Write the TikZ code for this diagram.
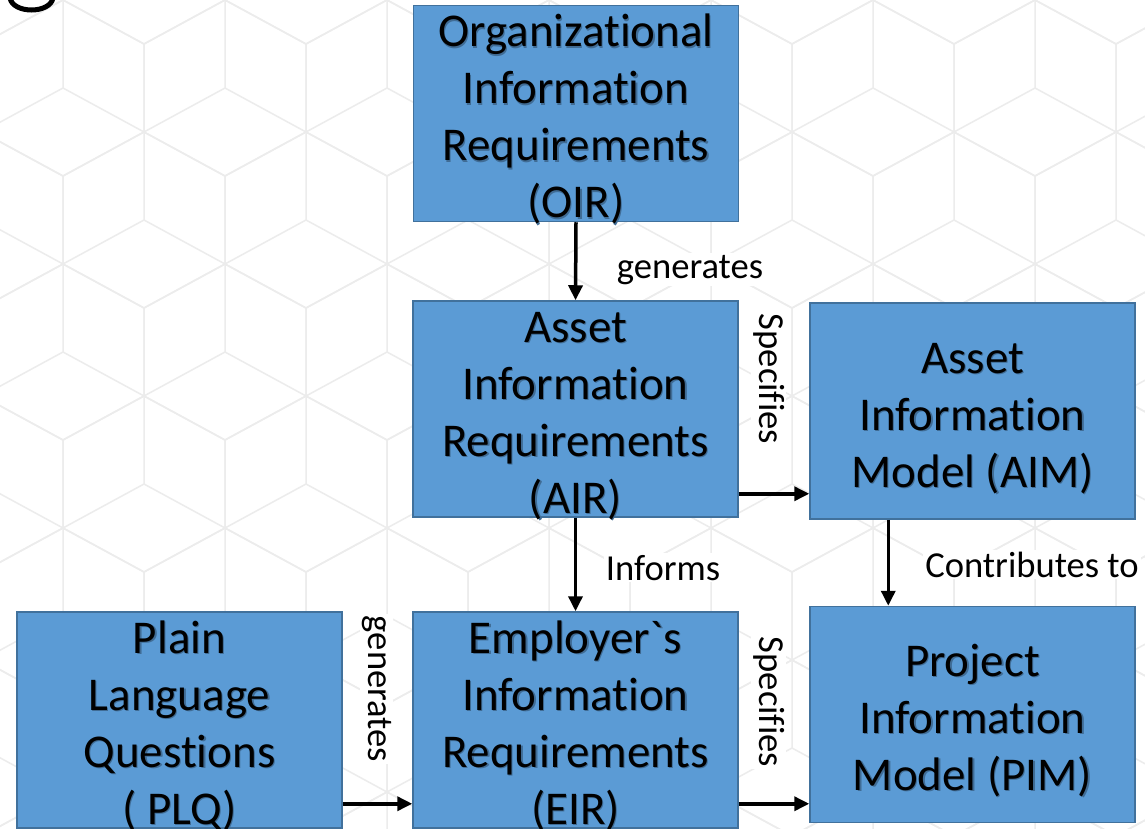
\documentclass[tikz,border=0pt]{standalone}
\usepackage{fontspec}
\setmainfont{Carlito}[Ligatures={NoCommon,TeXOff}]
\usetikzlibrary{arrows.meta}
\definecolor{boxfill}{HTML}{5B9BD5}
\definecolor{boxline}{HTML}{41719C}
\definecolor{patline}{HTML}{ECECEC}
\colorlet{shadowc}{boxfill!70!black}
\newcommand\shd[1]{\rlap{\kern1.2pt\raisebox{-1.2pt}{\textcolor{shadowc}{#1}}}#1}
\newcommand\bline[1]{\rule[-9pt]{0pt}{56pt}\shd{#1}}
\newcommand\boxtext[1]{\parbox[c][216pt][c]{325pt}{\centering\fontsize{47}{57}\selectfont #1}}
\tikzset{
  box/.style={draw=boxline, line width=1.5pt, fill=boxfill, inner sep=0pt, text=black},
  lbl/.style={fill=white, inner sep=2pt, text=black, font=\fontsize{36.6}{44}\selectfont},
  arr/.style={line width=3.5pt, black, -{Triangle[length=15pt,width=14pt]}},
  pat/.style={draw=patline, line width=1.5pt}
}
\begin{document}
\begin{tikzpicture}[x=1pt,y=-1pt]
\useasboundingbox (0,0) rectangle (1145,829);
\fill[white] (0,0) rectangle (1145,829);
% background cube pattern
\begin{scope}
\clip (0,0) rectangle (1145,829);
\foreach \j in {-1,...,6}{
  \foreach \i in {-1,...,7}{
    \pgfmathsetmacro\cx{63+162*\i+81*mod(\j+2,2)}
    \pgfmathsetmacro\cy{88+132*\j}
    \draw[pat] (\cx,\cy-88) -- (\cx+81,\cy-44) -- (\cx+81,\cy+44) -- (\cx,\cy+88)
               -- (\cx-81,\cy+44) -- (\cx-81,\cy-44) -- cycle;
    \draw[pat] (\cx,\cy-88) -- (\cx,\cy) -- (\cx-81,\cy+44);
    \draw[pat] (\cx,\cy) -- (\cx+81,\cy+44);
  }
}
\end{scope}
% fragment of the cut-off heading letter
\draw[line width=5pt, line cap=round] (10,-2) .. controls (13,14) and (50,14) .. (53,-2);
% boxes
\node[box] (OIR) at (576,113.5) {\boxtext{\bline{Organizational}\\\bline{Information}\\\bline{Requirements}\\\bline{(OIR)}}};
\node[box] (AIR) at (575.5,409) {\boxtext{\bline{Asset}\\\bline{Information}\\\bline{Requirements}\\\bline{(AIR)}}};
\node[box] (AIM) at (972.5,411) {\boxtext{\bline{Asset}\\\bline{Information}\\\bline{Model (AIM)}}};
\node[box] (PLQ) at (179.5,720) {\boxtext{\bline{Plain}\\\bline{Language}\\\bline{Questions}\\\bline{( PLQ)}}};
\node[box] (EIR) at (575.5,720) {\boxtext{\bline{Employer\symbol{96}s}\\\bline{Information}\\\bline{Requirements}\\\bline{(EIR)}}};
\node[box] (PIM) at (972.5,714.5) {\boxtext{\bline{Project}\\\bline{Information}\\\bline{Model (PIM)}}};
% labels
\node[lbl, anchor=base] (lgen1) at (690,278) {generates};
\node[lbl, anchor=base] (linf) at (663,580) {Informs};
\node[lbl, anchor=base] (lcon) at (1032,577) {Contributes to};
\node[lbl, rotate=-90, anchor=base] (lspec1) at (759,379) {Specifies};
\node[lbl, rotate=-90, anchor=base] (lspec2) at (759,702) {Specifies};
\node[lbl, rotate=-90, anchor=base] (lgen2) at (368,689) {generates};
% connectors
\draw[arr] (OIR.south) -- (AIR.north);
\draw[arr] (AIR.south) -- (EIR.north);
\draw[arr] ([yshift=24pt]AIR.south east) -- ([yshift=24pt]AIR.south east -| AIM.west);
\draw[arr] ([xshift=79pt]AIM.south west) -- ([xshift=79pt]AIM.south west |- PIM.north);
\draw[arr] ([yshift=25pt]PLQ.south east) -- ([yshift=25pt]PLQ.south east -| EIR.west);
\draw[arr] ([yshift=25pt]EIR.south east) -- ([yshift=25pt]EIR.south east -| PIM.west);
\end{tikzpicture}
\end{document}
